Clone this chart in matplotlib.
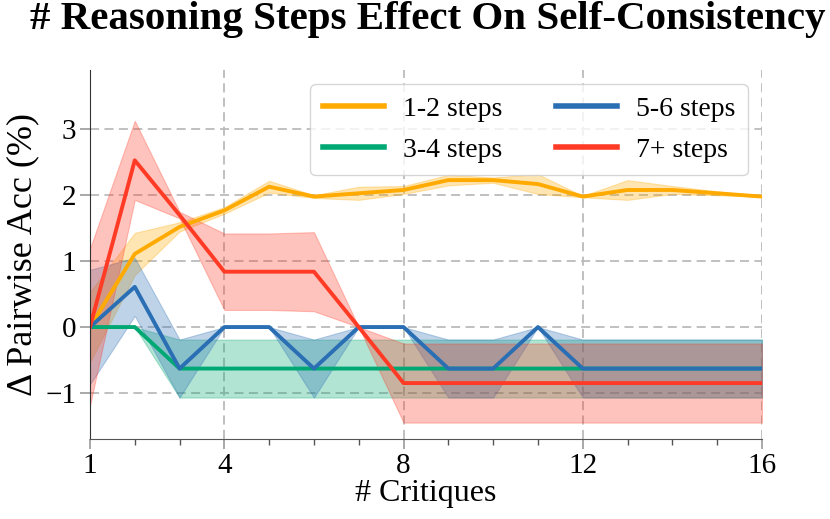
import numpy as np
import matplotlib
matplotlib.use('Agg')
import matplotlib.pyplot as plt
from matplotlib.ticker import MultipleLocator

# number of critiques
critiques = list(range(1, 17))

# 1-2 steps
steps12_mean = [0, 1.11, 1.52, 1.77, 2.13, 1.98, 2.03, 2.08, 2.23, 2.23, 2.17, 1.98, 2.08, 2.08, 2.03, 1.98]
steps12_err = [0.53, 0.32, 0.07, 0.05, 0.09, 0.02, 0.10, 0.06, 0.08, 0.04, 0.15, 0.01, 0.15, 0.06, 0.03, 0.0]

# 3-4 steps
steps34_mean = [0, 0] + [-0.63] * 14
steps34_err = [0, 0] + [0.44] * 14

# 5-6 steps
steps56_mean = [0, 0.61, -0.63, 0, 0, -0.63, 0, 0, -0.63, -0.63, 0, -0.63, -0.63, -0.63, -0.63, -0.63]
steps56_err = [0.87, 0.44, 0.44, 0, 0, 0.44, 0, 0, 0.44, 0.44, 0, 0.44, 0.44, 0.44, 0.44, 0.44]

# 7+ steps
steps7_mean = [0, 2.53, 1.70, 0.84, 0.84, 0.84, 0] + [-0.85] * 9
steps7_err = [1.19, 0.60, 0.05, 0.58, 0.58, 0.60, 0] + [0.60] * 9

labels = ['1-2 steps', '3-4 steps', '5-6 steps', '7+ steps']
colors = ['#FFAA00', '#00A873', '#2A6EB4', '#FF3B26']
means = [steps12_mean, steps34_mean, steps56_mean, steps7_mean]
errs = [steps12_err, steps34_err, steps56_err, steps7_err]

plt.rcParams['font.family'] = ['Liberation Serif', 'DejaVu Serif']

fig = plt.figure(figsize=(8.3, 5.19), dpi=100)
ax = fig.add_axes([0.1084, 0.154, 0.8096, 0.711])

x = np.array(critiques)
for m, e, c, lab in zip(means, errs, colors, labels):
    m = np.array(m)
    e = np.array(e)
    ax.fill_between(x, m - e, m + e, color=c, alpha=0.3, linewidth=0.8)
    ax.plot(x, m, color=c, linewidth=2.8, label=lab)

ax.set_xlim(1, 16)
ax.set_ylim(-1.7, 3.9)
ax.set_xticks([1, 4, 8, 12, 16])
ax.xaxis.set_minor_locator(MultipleLocator(1))
ax.set_yticks([-1, 0, 1, 2, 3])

ax.grid(True, which='major', linestyle=(0, (5, 3)), color='#BBBBBB', linewidth=1.3)
ax.set_axisbelow(True)

for side in ['top', 'right']:
    ax.spines[side].set_visible(False)
ax.spines['left'].set_color('#333333')
ax.spines['bottom'].set_color('#555555')

ax.tick_params(axis='both', which='major', labelsize=21, color='#999999', length=7, width=1.2, pad=3)
ax.tick_params(axis='x', which='minor', color='#555555', length=4, width=1)

ax.set_xlabel('# Critiques', fontsize=23, labelpad=0)
ax.set_ylabel('Δ Pairwise Acc (%)', fontsize=26, labelpad=4)

fig.suptitle('# Reasoning Steps Effect On Self-Consistency', fontsize=29.5, fontweight='bold', x=0.515, y=0.998)

ax.legend(ncol=2, fontsize=20, loc='upper right', bbox_to_anchor=(1.0, 1.0),
          handlelength=2.2, columnspacing=1.9, handletextpad=0.7, labelspacing=0.55,
          borderpad=0.45, framealpha=0.8)
for line in ax.get_legend().get_lines():
    line.set_linewidth(4)

fig.savefig('out.png', dpi=100)
